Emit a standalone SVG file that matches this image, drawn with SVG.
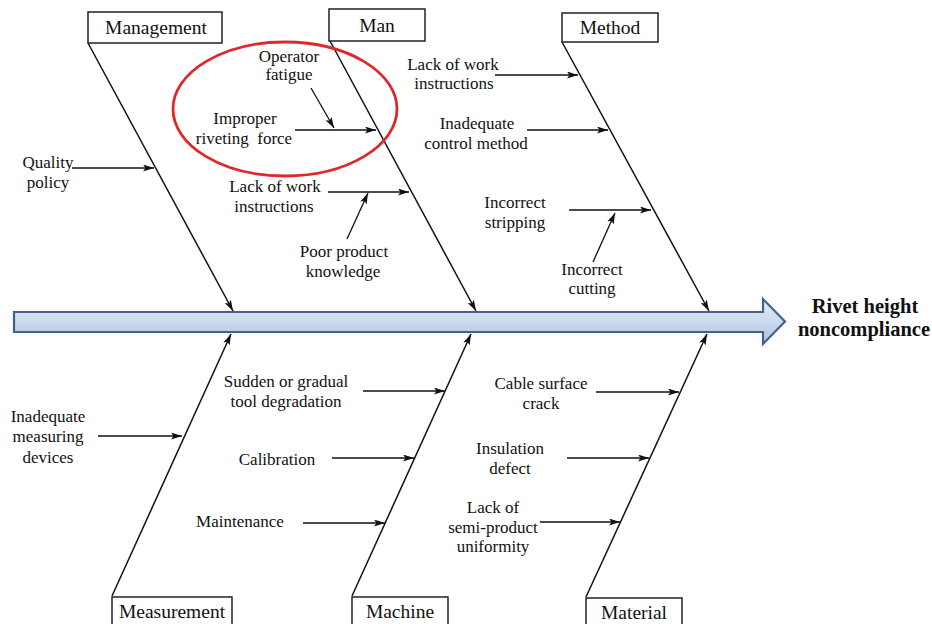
<svg xmlns="http://www.w3.org/2000/svg" width="932" height="624" viewBox="0 0 932 624" font-family="'Liberation Serif', 'Times New Roman', Times, 'DejaVu Serif', serif">
<style>
text{font-family:'Liberation Serif','Times New Roman',Times,'DejaVu Serif',serif}
.box{fill:#fff;stroke:#222;stroke-width:1.5}
.bl{font-size:19.5px;fill:#111;text-anchor:middle}
.t{font-size:17px;fill:#111;text-anchor:middle}
.eff{font-size:20.5px;font-weight:bold;fill:#111;text-anchor:middle}
.bone{stroke:#111;stroke-width:1.5;fill:none;marker-end:url(#ah)}
.sub{stroke:#111;stroke-width:1.3;fill:none;marker-end:url(#ah)}
</style>
<defs>
<marker id="ah" markerUnits="userSpaceOnUse" markerWidth="12" markerHeight="8" refX="11" refY="3.5" orient="auto">
<path d="M0,0 L11,3.5 L0,7 L2.5,3.5 Z" fill="#111"/>
</marker>
<linearGradient id="sg" x1="0" y1="0" x2="0" y2="1">
<stop offset="0" stop-color="#e6eef8"/>
<stop offset="1" stop-color="#aec4e1"/>
</linearGradient>
</defs>
<rect width="932" height="624" fill="#fff"/>

<g id="spine">
<polygon points="14,312 763,312 763,299 785,321.5 763,344 763,332 14,332" fill="url(#sg)" stroke="#41628f" stroke-width="2.2" stroke-linejoin="miter"/>
</g>

<g id="connectors">
<line class="bone" x1="88" y1="43" x2="233" y2="311"/>
<line class="bone" x1="330" y1="41" x2="476" y2="311"/>
<line class="bone" x1="562" y1="42" x2="709" y2="311"/>
<line class="bone" x1="112" y1="596" x2="231" y2="334"/>
<line class="bone" x1="352" y1="596" x2="471" y2="334"/>
<line class="bone" x1="586" y1="597" x2="707" y2="334"/>

<line class="sub" x1="72" y1="168" x2="154" y2="168"/>
<line class="sub" x1="311" y1="88" x2="334" y2="128"/>
<line class="sub" x1="295" y1="130" x2="376" y2="130"/>
<line class="sub" x1="328" y1="192" x2="409" y2="192"/>
<line class="sub" x1="347" y1="239" x2="368" y2="193"/>
<line class="sub" x1="495" y1="75" x2="578" y2="75"/>
<line class="sub" x1="527" y1="130" x2="608" y2="130"/>
<line class="sub" x1="569" y1="210" x2="651" y2="210"/>
<line class="sub" x1="593" y1="262" x2="615" y2="213"/>
<line class="sub" x1="98" y1="436" x2="182" y2="436"/>
<line class="sub" x1="363" y1="391" x2="445" y2="391"/>
<line class="sub" x1="332" y1="458" x2="414" y2="458"/>
<line class="sub" x1="303" y1="523" x2="385" y2="523"/>
<line class="sub" x1="596" y1="392" x2="679" y2="392"/>
<line class="sub" x1="567" y1="458" x2="649" y2="458"/>
<line class="sub" x1="540" y1="522" x2="620" y2="522"/>
</g>

<g id="highlight">
<ellipse cx="285" cy="109" rx="112" ry="67" fill="none" stroke="#e0282a" stroke-width="2.8"/>
</g>

<g id="management"><rect class="box" x="88" y="12" width="134" height="31"/><text class="bl" x="156" y="34">Management</text></g>
<g id="man"><rect class="box" x="329" y="9" width="96" height="32"/><text class="bl" x="377" y="32">Man</text></g>
<g id="method"><rect class="box" x="562" y="13" width="96" height="29"/><text class="bl" x="610" y="34">Method</text></g>
<g id="measurement"><rect class="box" x="112" y="597" width="120" height="40"/><text class="bl" x="172" y="618">Measurement</text></g>
<g id="machine"><rect class="box" x="352" y="597" width="96" height="40"/><text class="bl" x="400" y="618">Machine</text></g>
<g id="material"><rect class="box" x="586" y="598" width="96" height="40"/><text class="bl" x="634" y="619">Material</text></g>

<g id="effect"><text class="eff" x="865" y="313">Rivet height</text><text class="eff" x="864" y="336">noncompliance</text></g>

<g id="quality-policy"><text class="t" x="48" y="168">Quality</text><text class="t" x="48" y="188">policy</text></g>
<g id="operator-fatigue"><text class="t" x="289" y="62">Operator</text><text class="t" x="289" y="80">fatigue</text></g>
<g id="improper-riveting-force"><text class="t" x="245" y="124">Improper</text><text class="t" x="244" y="144" xml:space="preserve">riveting  force</text></g>
<g id="man-lack-instructions"><text class="t" x="275" y="192">Lack of work</text><text class="t" x="274" y="212">instructions</text></g>
<g id="poor-product-knowledge"><text class="t" x="344" y="257">Poor product</text><text class="t" x="343" y="277">knowledge</text></g>
<g id="method-lack-instructions"><text class="t" x="453" y="70">Lack of work</text><text class="t" x="454" y="89">instructions</text></g>
<g id="inadequate-control"><text class="t" x="477" y="129">Inadequate</text><text class="t" x="476" y="149">control method</text></g>
<g id="incorrect-stripping"><text class="t" x="515" y="208">Incorrect</text><text class="t" x="515" y="228">stripping</text></g>
<g id="incorrect-cutting"><text class="t" x="592" y="275">Incorrect</text><text class="t" x="592" y="294">cutting</text></g>
<g id="inadequate-measuring"><text class="t" x="48" y="422">Inadequate</text><text class="t" x="48" y="442">measuring</text><text class="t" x="48" y="463">devices</text></g>
<g id="tool-degradation"><text class="t" x="286" y="387">Sudden or gradual</text><text class="t" x="286" y="407">tool degradation</text></g>
<g id="calibration"><text class="t" x="277" y="465">Calibration</text></g>
<g id="maintenance"><text class="t" x="240" y="527">Maintenance</text></g>
<g id="cable-crack"><text class="t" x="541" y="389">Cable surface</text><text class="t" x="541" y="409">crack</text></g>
<g id="insulation-defect"><text class="t" x="510" y="454">Insulation</text><text class="t" x="510" y="474">defect</text></g>
<g id="semi-product"><text class="t" x="493" y="513">Lack of</text><text class="t" x="493" y="533">semi-product</text><text class="t" x="493" y="552">uniformity</text></g>
</svg>
